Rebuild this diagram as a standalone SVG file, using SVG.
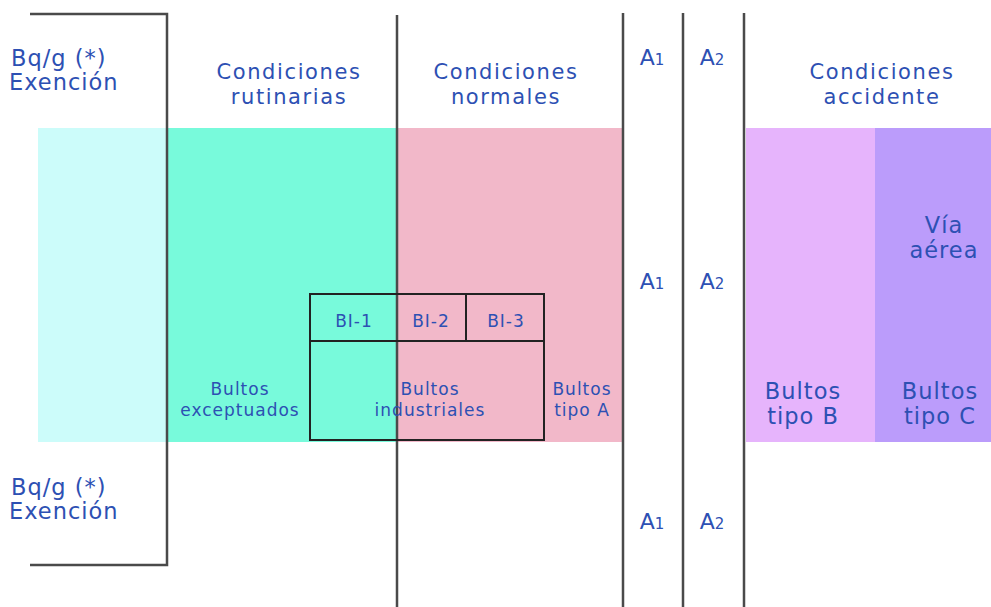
<svg xmlns="http://www.w3.org/2000/svg" width="991" height="607" viewBox="0 0 991 607">
<style>
.t{font-family:"DejaVu Sans","Liberation Sans",sans-serif;fill:#2d50b3}
.h{font-size:22.5px;letter-spacing:1px}
.c{font-size:21px;letter-spacing:1.6px}
.s{font-size:17px;letter-spacing:1px}
.m{font-size:22px}
.ln{stroke:#4a4a4a;stroke-width:2.5;fill:none}
.bx{stroke:#222;stroke-width:2;fill:none}
</style>
<rect width="991" height="607" fill="#fff"/>
<g id="zones">
<rect x="38" y="128" width="129" height="314" fill="#ccfcfa"/>
<rect x="167" y="128" width="230" height="314" fill="#78fadb"/>
<rect x="397" y="128" width="225" height="314" fill="#f2b8c9"/>
<rect x="746" y="128" width="129" height="314" fill="#e6b4fc"/>
<rect x="875" y="128" width="116" height="314" fill="#bb9cfb"/>
</g>
<g id="connectors">
<polyline class="ln" points="30,14 167,14 167,565 30,565"/>
<line class="ln" x1="397" y1="15" x2="397" y2="607"/>
<line class="ln" x1="623" y1="13" x2="623" y2="607"/>
<line class="ln" x1="683" y1="13" x2="683" y2="607"/>
<line class="ln" x1="744" y1="13" x2="744" y2="607"/>
</g>
<g id="bi">
<rect class="bx" x="310" y="294" width="234" height="146"/>
<line class="bx" x1="310" y1="341" x2="544" y2="341" stroke-width="3"/>
<line class="bx" x1="466" y1="294" x2="466" y2="341"/>
<text class="t s" x="354" y="327" text-anchor="middle">BI-1</text>
<text class="t s" x="431" y="327" text-anchor="middle">BI-2</text>
<text class="t s" x="506" y="327" text-anchor="middle">BI-3</text>
</g>
<g id="labels">
<text class="t h" x="11" y="66">Bq/g (*)</text>
<text class="t h" x="9" y="90">Exención</text>
<text class="t h" x="11" y="495">Bq/g (*)</text>
<text class="t h" x="9" y="519">Exención</text>
<text class="t c" x="289" y="79" text-anchor="middle">Condiciones</text>
<text class="t c" x="289" y="104" text-anchor="middle">rutinarias</text>
<text class="t c" x="506" y="79" text-anchor="middle">Condiciones</text>
<text class="t c" x="506" y="104" text-anchor="middle">normales</text>
<text class="t c" x="882" y="79" text-anchor="middle">Condiciones</text>
<text class="t c" x="882" y="104" text-anchor="middle">accidente</text>
<text class="t m" x="652" y="65" text-anchor="middle">A<tspan font-size="15">1</tspan></text>
<text class="t m" x="712" y="65" text-anchor="middle">A<tspan font-size="15">2</tspan></text>
<text class="t m" x="652" y="289" text-anchor="middle">A<tspan font-size="15">1</tspan></text>
<text class="t m" x="712" y="289" text-anchor="middle">A<tspan font-size="15">2</tspan></text>
<text class="t m" x="652" y="529" text-anchor="middle">A<tspan font-size="15">1</tspan></text>
<text class="t m" x="712" y="529" text-anchor="middle">A<tspan font-size="15">2</tspan></text>
<text class="t h" x="944" y="233" text-anchor="middle">Vía</text>
<text class="t h" x="944" y="258" text-anchor="middle">aérea</text>
<text class="t s" x="240" y="395" text-anchor="middle">Bultos</text>
<text class="t s" x="240" y="416" text-anchor="middle">exceptuados</text>
<text class="t s" x="430" y="395" text-anchor="middle">Bultos</text>
<text class="t s" x="430" y="416" text-anchor="middle">industriales</text>
<text class="t s" x="582" y="395" text-anchor="middle">Bultos</text>
<text class="t s" x="582" y="416" text-anchor="middle">tipo A</text>
<text class="t h" x="803" y="399" text-anchor="middle">Bultos</text>
<text class="t h" x="803" y="424" text-anchor="middle">tipo B</text>
<text class="t h" x="940" y="399" text-anchor="middle">Bultos</text>
<text class="t h" x="940" y="424" text-anchor="middle">tipo C</text>
</g>
</svg>
